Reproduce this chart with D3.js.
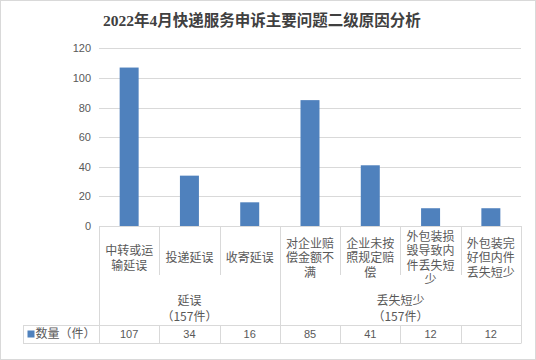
<!DOCTYPE html>
<html><head><meta charset="utf-8">
<script src="https://cdn.jsdelivr.net/npm/d3@7"></script>
<style>html,body{margin:0;padding:0;background:#fff;}</style>
</head><body>
<svg id="chart" width="536" height="360"></svg>
<script>
const title = "2022年4月快递服务申诉主要问题二级原因分析";
const categories = ["中转或运输延误","投递延误","收寄延误","对企业赔偿金额不满","企业未按照规定赔偿","外包装损毁导致内件丢失短少","外包装完好但内件丢失短少"];
const values = [107,34,16,85,41,12,12];
const groups = ["延误","丢失短少"];
const groupCounts = ["（157件）","（157件）"];
const groupSizes = [3,4];
const yTicks = [0,20,40,60,80,100,120];
const seriesName = "数量（件）";

const svg = d3.select("#chart");
const gridColor = "#d9d9d9", textColor = "#595959", barColor = "#4f81bd";
const cjk = "'Noto Sans CJK SC', sans-serif";
const num = "'Liberation Sans', Arial, sans-serif";

// outer border
svg.append("rect").attr("x",0.5).attr("y",0.5).attr("width",535).attr("height",359)
  .attr("fill","#fff").attr("stroke",gridColor);

// title
svg.append("text").attr("x",262).attr("y",25.5).attr("text-anchor","middle")
  .attr("font-family","'Liberation Serif','Noto Sans CJK SC',serif").attr("font-weight","bold")
  .attr("font-size",15.5).attr("fill","#404040").text(title);

const x = d3.scaleBand().domain(categories).range([99,521]).padding(0);
const y = d3.scaleLinear().domain([0,120]).range([226,48.3]);

// gridlines
svg.append("g").selectAll("line").data(yTicks).join("line")
  .attr("x1",99).attr("x2",521).attr("y1",d=>Math.round(y(d))+0.5).attr("y2",d=>Math.round(y(d))+0.5)
  .attr("stroke",gridColor);

// y axis labels
const yAxis = d3.axisLeft(y).tickValues(yTicks).tickSize(0).tickPadding(8);
const ya = svg.append("g").attr("transform","translate(99,0)").call(yAxis);
ya.select(".domain").remove();
ya.selectAll("text").attr("font-family",num).attr("font-size",11).attr("fill",textColor);

// bars
const bw = x.bandwidth()*0.315;
svg.append("g").selectAll("rect").data(categories).join("rect")
  .attr("x",d=>x(d)+x.bandwidth()/2-bw/2).attr("width",bw)
  .attr("y",(d,i)=>y(values[i])).attr("height",(d,i)=>y(0)-y(values[i]))
  .attr("fill",barColor);

// group boundaries
const bounds = [0];
groupSizes.forEach((s,i)=>bounds.push(bounds[i]+s));
const bx = i => i<categories.length ? x(categories[i]) : x.range()[1];
const lines = svg.append("g").attr("stroke",gridColor);
categories.forEach((c,i)=>{
  if(i===0) return;
  if(!bounds.includes(i)){
    const xx = Math.round(x(c))+0.5;
    lines.append("line").attr("x1",xx).attr("x2",xx).attr("y1",226).attr("y2",275);
    lines.append("line").attr("x1",xx).attr("x2",xx).attr("y1",325).attr("y2",343);
  }
});
bounds.forEach(b=>{
  const xx = Math.round(bx(b))+0.5;
  lines.append("line").attr("x1",xx).attr("x2",xx).attr("y1",226).attr("y2",343);
});
// table lines
lines.append("line").attr("x1",23).attr("x2",521.5).attr("y1",325.5).attr("y2",325.5);
lines.append("line").attr("x1",23).attr("x2",521.5).attr("y1",343.5).attr("y2",343.5);
lines.append("line").attr("x1",23.5).attr("x2",23.5).attr("y1",325).attr("y2",343.5);

// category labels
const lh = 14.5;
categories.forEach((c,i)=>{
  const parts = [];
  for(let k=0;k<c.length;k+=4) parts.push(c.slice(k,k+4));
  const cx = x(c)+x.bandwidth()/2;
  const y0 = 258 - (parts.length-1)*lh/2;
  const t = svg.append("text").attr("text-anchor","middle").attr("font-family",cjk)
    .attr("font-size",12).attr("fill",textColor);
  parts.forEach((p,j)=>t.append("tspan").attr("x",cx).attr("y",y0+j*lh).attr("dy","0.36em").text(p));
});

// group labels
groups.forEach((g,i)=>{
  const cx = (bx(bounds[i])+bx(bounds[i+1]))/2;
  const t = svg.append("text").attr("text-anchor","middle").attr("font-family",cjk)
    .attr("font-size",12).attr("fill",textColor);
  t.append("tspan").attr("x",cx).attr("y",301).attr("dy","0.36em").text(g);
  t.append("tspan").attr("x",cx).attr("y",316.5).attr("dy","0.36em").text(groupCounts[i]);
});

// data table row
svg.append("rect").attr("x",27.5).attr("y",330.5).attr("width",7).attr("height",7).attr("fill",barColor);
svg.append("text").attr("x",35.5).attr("y",334).attr("dy","0.36em").attr("font-family",cjk)
  .attr("font-size",12).attr("fill",textColor).text(seriesName);
svg.append("g").selectAll("text").data(categories).join("text")
  .attr("x",d=>x(d)+x.bandwidth()/2).attr("y",334).attr("dy","0.36em").attr("text-anchor","middle")
  .attr("font-family",num).attr("font-size",11).attr("fill",textColor)
  .text((d,i)=>values[i]);
</script>
</body></html>
